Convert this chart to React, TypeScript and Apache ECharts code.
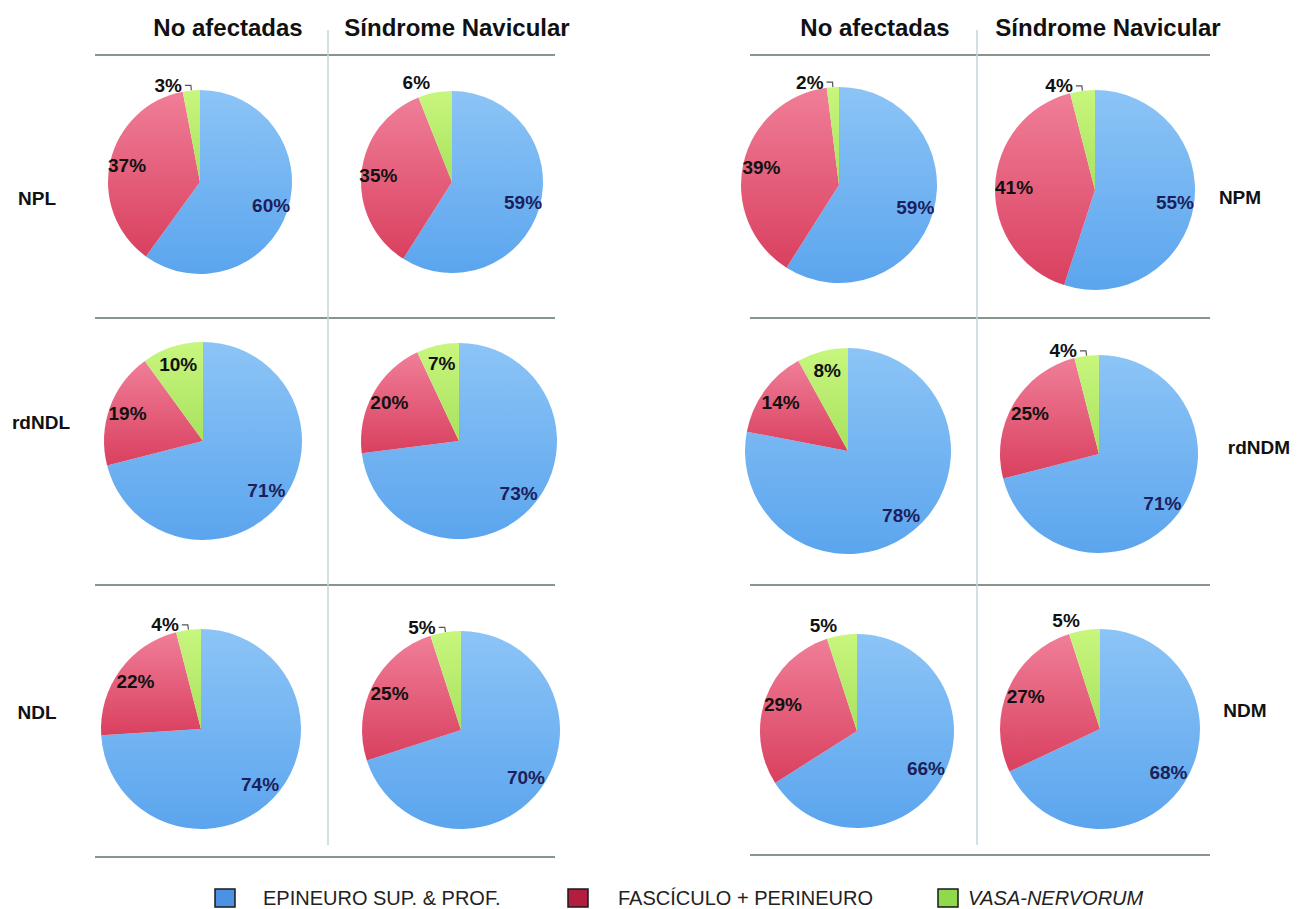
import React, { useEffect, useRef } from 'react';
import * as echarts from 'echarts';

// ---------- DATA ----------
const categories = ['EPINEURO SUP. & PROF.', 'FASCÍCULO + PERINEURO', 'VASA-NERVORUM'];
const columnTitles = ['No afectadas', 'Síndrome Navicular'];
const lateralNerves = ['NPL', 'rdNDL', 'NDL'];
const medialNerves = ['NPM', 'rdNDM', 'NDM'];
// values per row: [epineuro, fascículo + perineuro, vasa-nervorum] (%)
const lateralNoAfectadas = [[60, 37, 3], [71, 19, 10], [74, 22, 4]];
const lateralSindrome = [[59, 35, 6], [73, 20, 7], [70, 25, 5]];
const medialNoAfectadas = [[59, 39, 2], [78, 14, 8], [66, 29, 5]];
const medialSindrome = [[55, 41, 4], [71, 25, 4], [68, 27, 5]];

// ---------- LAYOUT ----------
// [cx, cy, r] per row
const geoLatNo = [[200, 182, 92], [203, 441, 99], [201, 729, 100]];
const geoLatSin = [[452, 182, 91], [459, 441, 98], [461, 730, 99]];
const geoMedNo = [[839, 185, 98], [848, 451, 103], [857, 731, 97]];
const geoMedSin = [[1095, 190, 100], [1099, 454, 99], [1100, 729, 100]];
// label mode for the vasa-nervorum slice: hook / above / inside
const greenLatNo = ['hook', 'inside', 'hook'];
const greenLatSin = ['above', 'inside', 'hook'];
const greenMedNo = ['hook', 'inside', 'above'];
const greenMedSin = ['hook', 'hook', 'above'];

const FONT = 'Liberation Sans, Arial, Helvetica, sans-serif';

const blueGrad = new echarts.graphic.LinearGradient(0, 0, 0, 1, [
  { offset: 0, color: '#8cc4f6' },
  { offset: 1, color: '#5ba5ee' },
]);
const redGrad = new echarts.graphic.LinearGradient(0, 0, 0, 1, [
  { offset: 0, color: '#f07e98' },
  { offset: 1, color: '#d9405f' },
]);
const greenGrad = new echarts.graphic.LinearGradient(0, 0, 0, 1, [
  { offset: 0, color: '#c8f67e' },
  { offset: 1, color: '#a8e25e' },
]);
const sliceColors = [blueGrad, redGrad, greenGrad];
const labelColors = ['#1c1f5c', '#111111', '#111111'];

function pieSeries(values: number[], geo: number[], greenMode: string) {
  const [cx, cy, r] = geo;
  const main = {
    type: 'pie',
    center: [cx, cy],
    radius: r,
    startAngle: 90,
    clockwise: true,
    silent: true,
    avoidLabelOverlap: false,
    label: { show: false },
    labelLine: { show: false },
    emphasis: { disabled: true },
    itemStyle: { borderWidth: 0 },
    data: values.map((v, i) => ({ name: categories[i], value: v, itemStyle: { color: sliceColors[i] } })),
  };
  const overlay = {
    type: 'pie',
    center: [cx, cy],
    radius: [r * 0.56, r],
    startAngle: 90,
    clockwise: true,
    silent: true,
    avoidLabelOverlap: false,
    emphasis: { disabled: true },
    itemStyle: { color: 'rgba(0,0,0,0)', borderWidth: 0 },
    label: {
      show: true,
      position: 'inside',
      formatter: '{c}%',
      fontFamily: FONT,
      fontWeight: 'bold',
      fontSize: 19,
    },
    labelLine: { show: false },
    data: values.map((v, i) => {
      const d: any = { name: categories[i], value: v, label: { color: labelColors[i] } };
      if (i === 2 && greenMode !== 'inside') {
        d.label = { color: labelColors[i], position: 'outside', distanceToLabelLine: 3 };
        d.labelLine =
          greenMode === 'hook'
            ? { show: true, length: 5, length2: 6, lineStyle: { color: '#555', width: 1.2 } }
            : { show: false, length: 10, length2: 0 };
      }
      return d;
    }),
  };
  return [main, overlay];
}

function App() {
  const ref = useRef<HTMLDivElement>(null);
  useEffect(() => {
    if (!ref.current) return;
    const chart = echarts.init(ref.current, undefined, { renderer: 'svg' });
    const series: any[] = [];
    const groups: [number[][], number[][], string[]][] = [
      [lateralNoAfectadas, geoLatNo, greenLatNo],
      [lateralSindrome, geoLatSin, greenLatSin],
      [medialNoAfectadas, geoMedNo, greenMedNo],
      [medialSindrome, geoMedSin, greenMedSin],
    ];
    groups.forEach(([vals, geo, modes]) => {
      vals.forEach((v, k) => series.push(...pieSeries(v, geo[k], modes[k])));
    });

    const hLineColor = '#86958f';
    const vLineColor = '#c3d4da';
    const graphics: any[] = [];
    // group frames
    const frames = [
      { x1: 95, x2: 555, vx: 328, ys: [55, 318, 585, 857] },
      { x1: 750, x2: 1210, vx: 977, ys: [55, 318, 585, 855] },
    ];
    frames.forEach((f) => {
      f.ys.forEach((y) =>
        graphics.push({
          type: 'line',
          shape: { x1: f.x1, y1: y, x2: f.x2, y2: y },
          style: { stroke: hLineColor, lineWidth: 2 },
          silent: true,
        })
      );
      graphics.push({
        type: 'line',
        shape: { x1: f.vx, y1: 30, x2: f.vx, y2: 845 },
        style: { stroke: vLineColor, lineWidth: 1.5 },
        silent: true,
      });
    });
    // column titles
    const titleX = [228, 457, 875, 1108];
    titleX.forEach((x, i) =>
      graphics.push({
        type: 'text',
        x,
        y: 27,
        style: {
          text: columnTitles[i % 2],
          fontFamily: FONT,
          fontWeight: 'bold',
          fontSize: 24,
          fill: '#111',
          textAlign: 'center',
          textVerticalAlign: 'middle',
        },
      })
    );
    // row labels
    const leftRowPos = [[37, 198], [41, 422], [37, 712]];
    const rightRowPos = [[1240, 197], [1259, 447], [1245, 710]];
    lateralNerves.forEach((t, i) =>
      graphics.push({
        type: 'text',
        x: leftRowPos[i][0],
        y: leftRowPos[i][1],
        style: { text: t, fontFamily: FONT, fontWeight: 'bold', fontSize: 19, fill: '#111', textAlign: 'center', textVerticalAlign: 'middle' },
      })
    );
    medialNerves.forEach((t, i) =>
      graphics.push({
        type: 'text',
        x: rightRowPos[i][0],
        y: rightRowPos[i][1],
        style: { text: t, fontFamily: FONT, fontWeight: 'bold', fontSize: 19, fill: '#111', textAlign: 'center', textVerticalAlign: 'middle' },
      })
    );
    // legend
    const legendSquares = [
      { x: 215, fill: '#4b92e4', tx: 263 },
      { x: 568, fill: '#b31d40', tx: 618 },
      { x: 938, fill: '#8fd94c', tx: 968 },
    ];
    legendSquares.forEach((l, i) => {
      graphics.push({
        type: 'rect',
        shape: { x: l.x, y: 889, width: 20, height: 18 },
        style: { fill: l.fill, stroke: '#1a1a1a', lineWidth: 1.5 },
        silent: true,
      });
      graphics.push({
        type: 'text',
        x: l.tx,
        y: 898,
        style: {
          text: categories[i],
          fontFamily: FONT,
          fontSize: 20,
          fontStyle: i === 2 ? 'italic' : 'normal',
          fill: '#222',
          textAlign: 'left',
          textVerticalAlign: 'middle',
        },
      });
    });

    chart.setOption({
      animation: false,
      backgroundColor: '#ffffff',
      series,
      graphic: graphics,
    });
    return () => chart.dispose();
  }, []);
  return (
    <div
      ref={ref}
      style={{ position: 'absolute', left: 0, top: 0, width: 1299, height: 909, background: '#fff' }}
    />
  );
}

export default App;
